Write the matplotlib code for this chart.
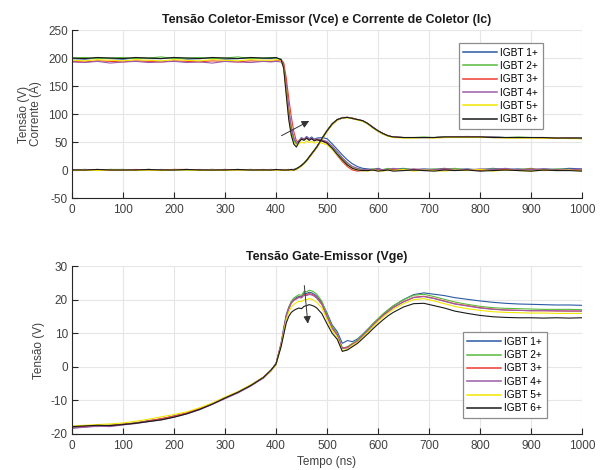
import matplotlib
matplotlib.use('Agg')
import matplotlib.pyplot as plt

# Sample instants (ns), finer around the switching event
t_ns = [0, 25, 50, 75, 100, 125, 150, 175, 200, 225, 250, 275, 300, 325, 350, 375,
        390, 400, 410, 415, 420, 425, 430, 435, 440, 445, 450, 455, 460, 465, 470,
        475, 480, 490, 500, 510, 520, 530, 540, 550, 560, 570, 580, 590, 600, 610,
        620, 630, 650, 670, 690, 710, 730, 750, 775, 800, 825, 850, 875, 900, 925,
        950, 975, 1000]

labels = ['IGBT 1+', 'IGBT 2+', 'IGBT 3+', 'IGBT 4+', 'IGBT 5+', 'IGBT 6+']
colors = ['#2b5aa6', '#58bb3a', '#ee3a32', '#9b5ca8', '#f2e600', '#1a1a1a']

# Collector-emitter voltage (V)
vce_1 = [199, 198, 200, 199, 198, 200, 199, 199, 201, 198, 199, 200, 198, 199, 200, 199,
         199, 200, 198, 188, 150, 105, 72, 55, 48, 52, 58, 55, 60, 56, 59, 55, 57, 58, 56,
         47, 37, 27, 18, 11, 6, 3, 2,
         1, 3, 0, 2, 1, 3, 0, 2, 1, 3, 1, 2, 0, 3, 1, 2, 0, 2, 1, 3, 2]
vce_2 = [200, 201, 199, 200, 201, 199, 200, 202, 199, 200, 201, 199, 200, 202, 199, 200,
         201, 200, 198, 185, 140, 95, 66, 52, 46, 53, 57, 54, 58, 55, 57, 54, 55, 53, 50,
         42, 31, 21, 12, 6, 2, 1, 0,
         2, 0, 1, 3, 0, 2, 1, 0, 2, 1, 3, 0, 1, 2, 0, 1, 3, 0, 2, 1, 0]
vce_3 = [194, 193, 195, 194, 193, 195, 194, 193, 195, 194, 193, 195, 194, 193, 195, 194,
         194, 195, 196, 192, 165, 128, 95, 68, 52, 50, 56, 55, 58, 54, 56, 53, 54, 52, 48,
         38, 26, 15, 6, 0, -2, -1, 0,
         -1, 1, 0, -1, 2, 0, 1, -1, 0, 2, 0, 1, -1, 0, 1, 0, 2, -1, 0, 1, 0]
vce_4 = [193, 192, 194, 191, 193, 194, 192, 193, 194, 192, 193, 191, 194, 193, 192, 194,
         193, 194, 193, 186, 150, 110, 78, 58, 48, 52, 57, 55, 59, 55, 57, 55, 56, 54, 51,
         43, 33, 22, 13, 6, 3, 1, 0,
         1, 2, 0, 1, 3, 0, 2, 1, 0, 2, 1, 0, 2, 1, 3, 0, 1, 2, 0, 1, 2]
vce_5 = [196, 195, 197, 196, 195, 197, 196, 195, 197, 196, 195, 197, 196, 195, 197, 196,
         196, 197, 196, 183, 138, 92, 62, 48, 44, 47, 50, 48, 52, 49, 51, 48, 50, 48, 45,
         37, 27, 17, 9, 3, 0, -1, -2,
         0, -1, -2, 0, -1, 1, -2, 0, -1, -2, 0, -1, 1, -2, 0, -1, -2, 0, -1, 0, -2]
vce_6 = [200, 199, 201, 200, 199, 201, 200, 199, 201, 200, 199, 201, 200, 199, 201, 200,
         200, 201, 197, 182, 135, 90, 62, 46, 41, 50, 55, 53, 57, 53, 56, 52, 54, 52, 48,
         39, 28, 18, 9, 3, 0, -1, -1,
         0, -2, -1, 0, -2, -1, 0, -1, -2, 0, -1, 0, -2, -1, 0, -1, -2, 0, -1, -1, -2]

# Collector current (A)
ic_1 = [0, 1, 0, 1, 0, 0, 1, 0, 1, 0, 0, 1, 0, 1, 0, 0, 1, 0, 0, 1, 0, 1, 0, 1, 2, 5,
        8, 12, 17, 23, 29, 35, 41, 56, 70, 82, 90, 93, 94, 92, 90, 88, 83, 76, 70, 65,
        61, 59, 58, 58, 58, 58, 59, 59, 59, 59, 59, 58, 58, 58, 58, 57, 57, 57]
ic_2 = [1, 0, 0, 1, 1, 0, 0, 1, 0, 0, 1, 0, 1, 0, 0, 1, 0, 1, 0, 0, 1, 0, 0, 1, 3, 5,
        9, 13, 18, 24, 30, 36, 42, 57, 71, 83, 90, 93, 94, 92, 90, 87, 82, 75, 69, 64,
        61, 59, 58, 58, 59, 58, 59, 59, 60, 59, 59, 58, 59, 58, 58, 57, 58, 57]
ic_3 = [0, 0, 1, 0, 0, 1, 0, 0, 1, 1, 0, 0, 1, 0, 1, 0, 0, 0, 1, 0, 0, 1, 0, 0, 2, 4,
        8, 12, 16, 22, 28, 34, 40, 55, 69, 81, 89, 93, 94, 93, 90, 88, 83, 76, 70, 65,
        61, 59, 58, 58, 58, 58, 58, 59, 59, 59, 58, 58, 58, 58, 57, 57, 57, 56]
ic_4 = [0, 1, 0, 0, 1, 0, 1, 0, 0, 1, 0, 1, 0, 0, 1, 0, 1, 0, 0, 0, 1, 0, 1, 1, 2, 5,
        8, 12, 17, 23, 29, 35, 41, 56, 70, 82, 90, 94, 94, 92, 90, 88, 83, 77, 70, 65,
        61, 59, 58, 58, 58, 58, 59, 59, 59, 59, 59, 58, 58, 58, 58, 58, 57, 57]
ic_5 = [-1, 0, -1, 0, 0, -1, 0, -1, 0, 0, -1, 0, -1, 0, 0, -1, 0, 0, -1, 0, 0, -1, 0, 0,
        1, 4, 7, 11, 16, 22, 28, 34, 40, 55, 69, 81, 89, 93, 93, 92, 89, 87, 82, 75, 69,
        64, 60, 58, 57, 57, 58, 57, 58, 58, 58, 58, 58, 57, 57, 57, 57, 57, 56, 56]
ic_6 = [0, 0, 1, 0, 0, 0, 1, 0, 0, 1, 0, 0, 0, 1, 0, 0, 0, 1, 0, 0, 0, 0, 1, 0, 2, 5,
        8, 12, 17, 23, 29, 35, 41, 56, 70, 82, 90, 93, 94, 92, 90, 88, 83, 76, 70, 65,
        61, 59, 58, 58, 58, 58, 59, 59, 59, 59, 58, 58, 58, 58, 58, 57, 57, 57]

# Gate-emitter voltage (V)
vge_1 = [-18.2, -17.9, -17.5, -17.6, -17.0, -16.8, -16.0, -15.6, -14.6, -13.9, -12.5,
         -11.1, -9.2, -7.7, -5.5, -3.3, -1.0, 1.0, 7.0, 11.5, 15.5, 17.8, 19.3, 20.0,
         20.6, 21.0, 20.8, 22.0, 21.8, 22.2, 22.0, 21.6, 21.0, 19.2, 16.0, 12.5, 10.5,
         7.0, 7.8, 7.5, 8.3, 9.7, 11.2, 12.8, 14.2, 15.6, 16.9, 18.1, 20.0, 21.5, 22.0,
         21.6, 21.2, 20.6, 20.1, 19.6, 19.2, 18.9, 18.7, 18.6, 18.5, 18.4, 18.4, 18.3]
vge_2 = [-18.0, -17.6, -17.8, -17.3, -17.2, -16.6, -16.2, -15.5, -14.8, -13.8, -12.6,
         -11.0, -9.3, -7.6, -5.6, -3.2, -1.2, 0.8, 6.5, 10.5, 14.5, 17.5, 19.5, 20.5,
         21.0, 21.5, 21.2, 22.5, 22.3, 22.8, 22.6, 22.2, 21.6, 19.5, 15.5, 12.0, 10.0,
         5.5, 6.0, 7.0, 8.0, 9.5, 11.0, 12.8, 14.3, 15.8, 17.0, 18.2, 20.0, 21.3, 21.6,
         20.9, 20.1, 19.3, 18.6, 18.0, 17.6, 17.4, 17.3, 17.2, 17.1, 17.1, 17.1, 17.0]
vge_3 = [-17.9, -17.7, -17.6, -17.4, -17.1, -16.7, -16.1, -15.4, -14.7, -13.7, -12.4,
         -10.9, -9.1, -7.5, -5.5, -3.1, -1.1, 0.9, 6.8, 10.8, 14.8, 17.3, 19.0, 19.8,
         20.3, 20.8, 20.6, 21.5, 21.4, 21.8, 21.6, 21.2, 20.6, 18.7, 15.0, 11.6, 9.6,
         5.6, 5.8, 6.8, 7.7, 9.2, 10.7, 12.4, 13.9, 15.3, 16.5, 17.7, 19.4, 20.7, 21.0,
         20.4, 19.6, 18.8, 18.2, 17.6, 17.2, 16.9, 16.8, 16.7, 16.7, 16.6, 16.6, 16.6]
vge_4 = [-18.3, -18.0, -17.7, -17.8, -17.3, -16.9, -16.3, -15.8, -15.0, -14.0, -12.8,
         -11.2, -9.5, -7.8, -5.8, -3.4, -1.3, 0.7, 6.6, 10.6, 14.6, 17.2, 19.0, 19.8,
         20.2, 20.6, 20.5, 21.3, 21.2, 21.5, 21.4, 21.0, 20.4, 18.5, 14.8, 11.4, 9.4,
         5.5, 5.6, 6.7, 7.6, 9.1, 10.6, 12.3, 13.8, 15.2, 16.4, 17.6, 19.3, 20.6, 20.9,
         20.3, 19.5, 18.7, 18.1, 17.5, 17.1, 16.9, 16.8, 16.7, 16.7, 16.7, 16.6, 16.6]
vge_5 = [-17.6, -17.4, -17.2, -17.0, -16.7, -16.2, -15.6, -14.9, -14.2, -13.4, -12.2,
         -10.8, -9.0, -7.4, -5.4, -3.2, -1.2, 0.6, 6.2, 10.2, 14.0, 16.3, 17.8, 18.6,
         19.1, 19.5, 19.4, 20.0, 20.0, 20.3, 20.1, 19.7, 19.2, 17.5, 14.0, 10.8, 8.8,
         4.8, 5.2, 6.4, 7.3, 8.8, 10.3, 11.9, 13.4, 14.8, 16.0, 17.1, 18.8, 20.0, 20.3,
         19.6, 18.8, 18.0, 17.3, 16.8, 16.4, 16.2, 16.1, 16.0, 16.0, 15.9, 15.9, 15.9]
vge_6 = [-17.8, -17.6, -17.4, -17.5, -17.2, -16.8, -16.3, -15.8, -15.0, -14.0, -12.7,
         -11.1, -9.3, -7.6, -5.6, -3.2, -1.0, 0.8, 6.0, 9.5, 13.0, 15.0, 16.2, 16.8,
         17.2, 17.5, 17.3, 18.0, 18.2, 18.5, 18.3, 18.0, 17.5, 15.8, 12.8, 10.0, 8.2,
         4.6, 5.0, 6.0, 7.0, 8.4, 9.8, 11.3, 12.7, 14.0, 15.2, 16.2, 17.8, 18.8, 18.9,
         18.2, 17.5, 16.6, 15.9, 15.3, 14.9, 14.7, 14.6, 14.6, 14.5, 14.6, 14.5, 14.6]

vce = [vce_1, vce_2, vce_3, vce_4, vce_5, vce_6]
ic = [ic_1, ic_2, ic_3, ic_4, ic_5, ic_6]
vge = [vge_1, vge_2, vge_3, vge_4, vge_5, vge_6]

AXIS_COLOR = '#262626'
GRID_COLOR = '#e6e6e6'
ARROW_COLOR = '#333333'

matplotlib.rcParams.update({
    'font.family': ['Liberation Sans', 'DejaVu Sans'],
    'font.size': 8.5,
    'axes.unicode_minus': False,
    'axes.edgecolor': AXIS_COLOR,
    'axes.linewidth': 0.8,
    'xtick.color': AXIS_COLOR,
    'ytick.color': AXIS_COLOR,
    'xtick.labelcolor': '#404040',
    'ytick.labelcolor': '#404040',
    'xtick.direction': 'in',
    'ytick.direction': 'in',
    'xtick.major.size': 4,
    'ytick.major.size': 4,
    'xtick.major.pad': 4.5,
    'ytick.major.pad': 3,
    'axes.labelcolor': '#404040',
})


def style_axes(ax, ylim, yticks):
    ax.set_xlim(0, 1000)
    ax.set_ylim(*ylim)
    ax.set_xticks(range(0, 1001, 100))
    ax.set_yticks(yticks)
    ax.spines['top'].set_visible(False)
    ax.spines['right'].set_visible(False)
    ax.grid(True, color=GRID_COLOR, linewidth=0.8)
    ax.set_axisbelow(True)


def add_legend(ax, handles, loc, anchor):
    leg = ax.legend(handles, labels, loc=loc, bbox_to_anchor=anchor, fontsize=7.3,
                    frameon=True, fancybox=False, framealpha=1, edgecolor='#8c8c8c',
                    handlelength=3.35, handletextpad=0.3, labelspacing=0.33,
                    borderpad=0.45, borderaxespad=0)
    leg.get_frame().set_linewidth(0.9)
    for line in leg.get_lines():
        line.set_linewidth(1.1)


fig = plt.figure(figsize=(6.01, 4.70), dpi=100)
ax1 = fig.add_axes([0.1198, 0.5787, 0.8486, 0.3574])
ax2 = fig.add_axes([0.1198, 0.0766, 0.8486, 0.3574])

# Top panel: Vce and Ic
handles = []
for k in range(6):
    h, = ax1.plot(t_ns, vce[k], color=colors[k], linewidth=0.8)
    ax1.plot(t_ns, ic[k], color=colors[k], linewidth=0.8)
    handles.append(h)
style_axes(ax1, (-50, 250), range(-50, 251, 50))
ax1.set_title('Tensão Coletor-Emissor (Vce) e Corrente de Coletor (Ic)',
              fontsize=8.9, fontweight='bold', color='#1a1a1a', pad=5)
ax1.set_ylabel('Tensão (V)\nCorrente (A)', fontsize=8.5, linespacing=1.0)
ax1.annotate('', xy=(470, 90), xytext=(406, 59),
             arrowprops=dict(arrowstyle='-|>', color=ARROW_COLOR, lw=0.7,
                             mutation_scale=11))
add_legend(ax1, handles, 'upper right', (0.9235, 0.9226))

# Bottom panel: Vge
handles = []
for k in range(6):
    h, = ax2.plot(t_ns, vge[k], color=colors[k], linewidth=0.8)
    handles.append(h)
style_axes(ax2, (-20, 30), range(-20, 31, 10))
ax2.set_title('Tensão Gate-Emissor (Vge)', fontsize=8.9, fontweight='bold',
              color='#1a1a1a', pad=4)
ax2.set_ylabel('Tensão (V)', fontsize=8.5)
ax2.set_xlabel('Tempo (ns)', fontsize=8.5, labelpad=3)
ax2.annotate('', xy=(463, 12), xytext=(455, 25),
             arrowprops=dict(arrowstyle='-|>', color=ARROW_COLOR, lw=0.7,
                             mutation_scale=11))
add_legend(ax2, handles, 'lower right', (0.931, 0.095))

fig.savefig('out.png', dpi=100)
